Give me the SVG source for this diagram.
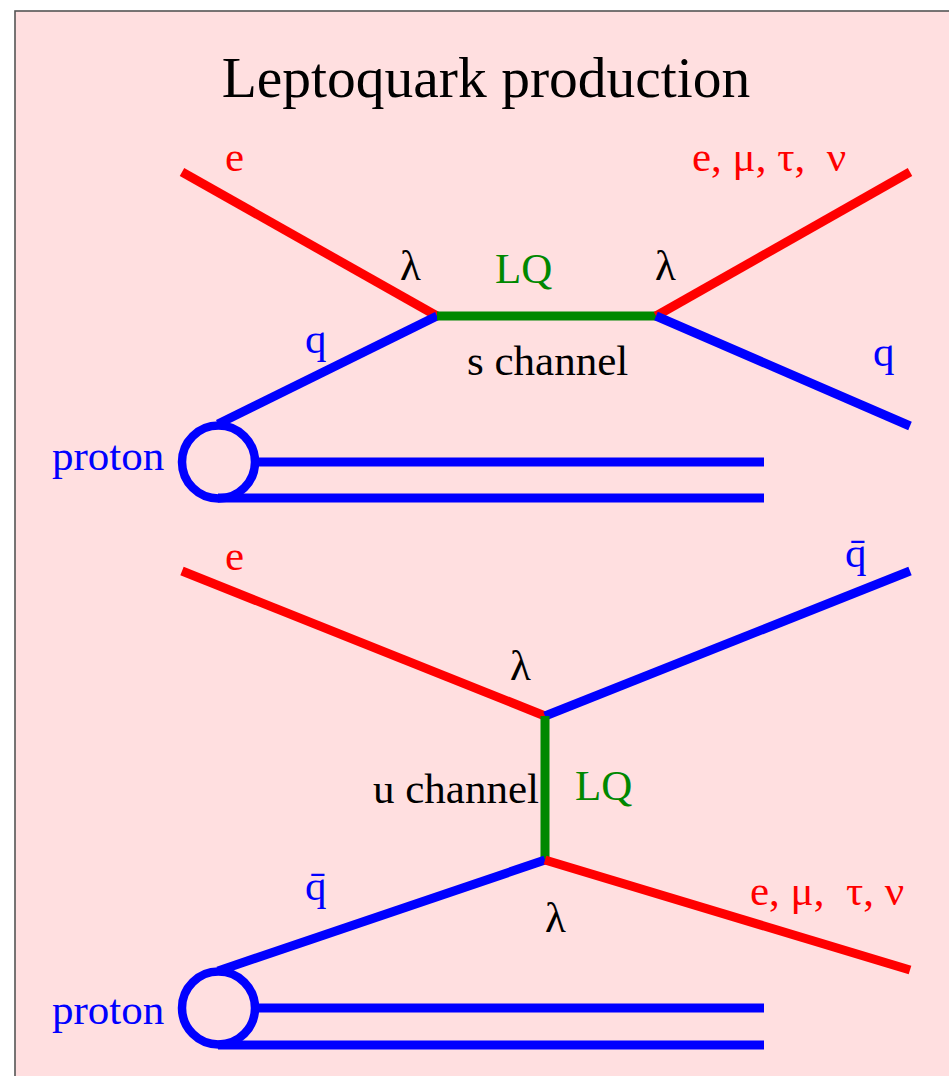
<svg xmlns="http://www.w3.org/2000/svg" width="949" height="1076" viewBox="0 0 949 1076">
<style>
.t{font-family:"Liberation Serif","Times New Roman",serif;font-size:43px}
.k{fill:#000}.r{fill:#ff0000}.b{fill:#0000ff}.g{fill:#008800}
.lr{stroke:#ff0000;stroke-width:9;fill:none}
.lb{stroke:#0000ff;stroke-width:9;fill:none}
.lg{stroke:#008800;stroke-width:9;fill:none}
</style>
<rect x="15" y="11" width="940" height="1070" fill="#ffdfe0" stroke="#555" stroke-width="1.6"/>
<g id="title"><text class="t k" x="486" y="97" text-anchor="middle" style="font-size:57.5px">Leptoquark production</text></g>
<g id="connectors">
<line class="lr" x1="182" y1="172" x2="437" y2="316"/>
<line class="lb" x1="218" y1="424" x2="437" y2="316"/>
<line class="lg" x1="437" y1="316" x2="656" y2="316"/>
<line class="lr" x1="656" y1="316" x2="910" y2="172"/>
<line class="lb" x1="656" y1="316" x2="910" y2="426"/>
<line class="lb" x1="255" y1="462" x2="764" y2="462"/>
<line class="lb" x1="218" y1="498" x2="764" y2="498"/>
<line class="lr" x1="182" y1="571" x2="545" y2="716"/>
<line class="lb" x1="545" y1="716" x2="910" y2="571"/>
<line class="lg" x1="545" y1="716" x2="545" y2="860"/>
<line class="lb" x1="218" y1="971" x2="545" y2="860"/>
<line class="lr" x1="545" y1="860" x2="910" y2="970"/>
<line class="lb" x1="255" y1="1008" x2="764" y2="1008"/>
<line class="lb" x1="218" y1="1045" x2="764" y2="1045"/>
</g>
<g id="proton1"><circle cx="218.5" cy="462" r="36.5" fill="none" stroke="#0000ff" stroke-width="8.5"/><text class="t b" x="52" y="470">proton</text></g>
<g id="proton2"><circle cx="218.5" cy="1008" r="36.5" fill="none" stroke="#0000ff" stroke-width="8.5"/><text class="t b" x="52" y="1024">proton</text></g>
<g id="labels-s">
<text class="t r" x="225" y="171">e</text>
<text class="t r" x="692" y="171">e, μ, τ, &#160;ν</text>
<text class="t k" x="400" y="280">λ</text>
<text class="t g" x="495" y="283">LQ</text>
<text class="t k" x="655" y="280">λ</text>
<text class="t b" x="305" y="353">q</text>
<text class="t k" x="467" y="375">s channel</text>
<text class="t b" x="873" y="366">q</text>
</g>
<g id="labels-u">
<text class="t r" x="225" y="570">e</text>
<text class="t b" x="845" y="567">q̄</text>
<text class="t k" x="510" y="680">λ</text>
<text class="t k" x="373" y="803">u channel</text>
<text class="t g" x="575" y="800">LQ</text>
<text class="t b" x="305" y="900">q̄</text>
<text class="t k" x="545" y="932">λ</text>
<text class="t r" x="750" y="905">e, μ, &#160;τ, ν</text>
</g>
</svg>
